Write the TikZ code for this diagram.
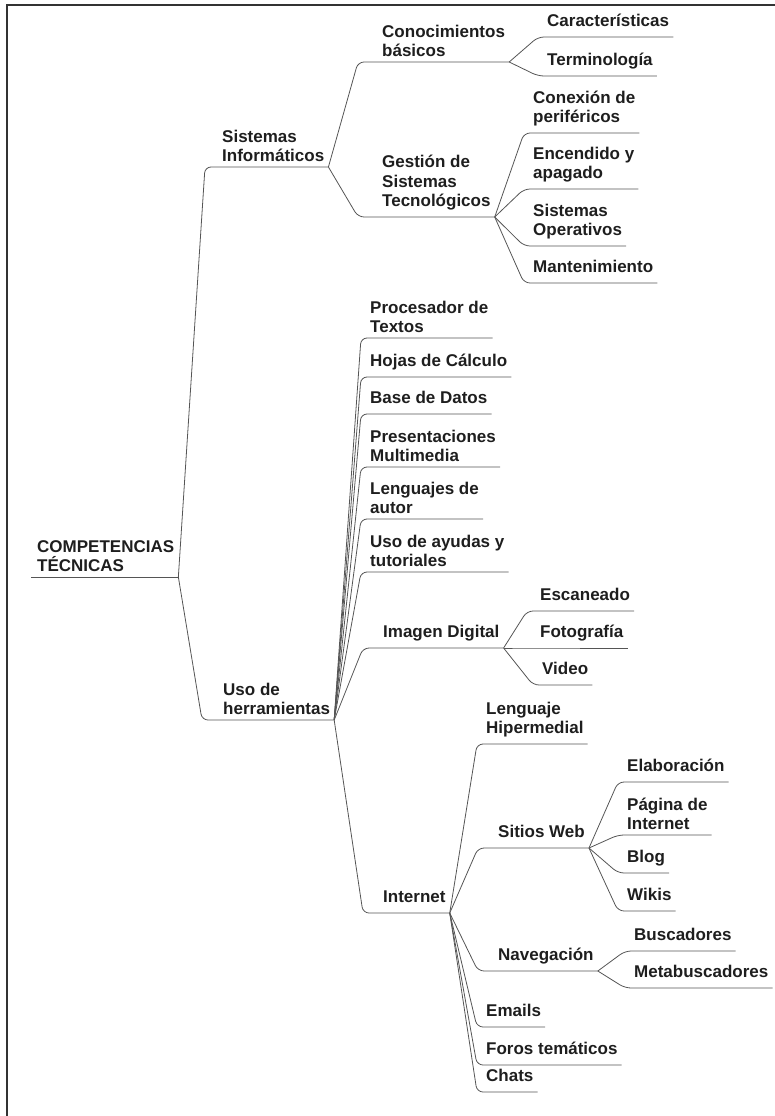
\documentclass[tikz,border=0pt]{standalone}
\usepackage{fontspec}
\setmainfont{Liberation Sans}
\definecolor{ink}{RGB}{30,30,30}
\definecolor{twigcol}{RGB}{85,85,85}

\begin{document}
\begin{tikzpicture}[x=1pt, y=-1pt,
    topic/.style={anchor=south west, align=left, inner xsep=4pt, inner ysep=6pt,
      text depth=4pt, text=ink, font=\fontsize{17}{19.5}\selectfont\bfseries},
    snug/.style={inner ysep=1pt},
    twig/.style={draw=twigcol, line width=0.8pt, rounded corners=6pt,
      to path={-- ([xshift=-#1]\tikztotarget.south west) -- (\tikztotarget.south east)}},
    twig/.default=5pt]

    \useasboundingbox (0,0) rectangle (775,1116);
    \draw[line width=2pt, black!80] (7,1116) -- (7,5) -- (775,5);

    \node [topic,snug] (root) at (33,577) {COMPETENCIAS\\TÉCNICAS};
    \node [topic,snug] (sis) at (218,167) {Sistemas\\Informáticos};
    \node [topic,snug] (uso) at (219,720) {Uso de\\herramientas};

    \node [topic,snug] (con) at (378,62) {Conocimientos\\básicos};
    \node [topic] (ges) at (378,217) {Gestión de\\Sistemas\\Tecnológicos};
    \node [topic] (car) at (543,37) {Características};
    \node [topic] (ter) at (543,76) {Terminología};
    \node [topic] (cnx) at (529,133) {Conexión de\\periféricos};
    \node [topic] (enc) at (529,189) {Encendido y\\apagado};
    \node [topic] (sop) at (529,246) {Sistemas\\Operativos};
    \node [topic] (man) at (529,283) {Mantenimiento};

    \node [topic,snug] (pro) at (366,338) {Procesador de\\Textos};
    \node [topic] (hoj) at (366,377) {Hojas de Cálculo};
    \node [topic] (bas) at (366,414) {Base de Datos};
    \node [topic,snug] (pre) at (366,467) {Presentaciones\\Multimedia};
    \node [topic,snug] (len) at (366,519) {Lenguajes de\\autor};
    \node [topic,snug] (ayu) at (366,572) {Uso de ayudas y\\tutoriales};
    \node [topic] (img) at (379,648) {Imagen Digital};
    \node [topic] (esc) at (536,611) {Escaneado};
    \node [topic] (fot) at (536,648) {Fotografía};
    \node [topic] (vid) at (538,685) {Video};

    \node [topic] (net) at (379,913) {Internet};
    \node [topic] (hip) at (482,744) {Lenguaje\\Hipermedial};
    \node [topic] (web) at (494,848) {Sitios Web};
    \node [topic] (ela) at (623,782) {Elaboración};
    \node [topic,snug] (pag) at (623,835) {Página de\\Internet};
    \node [topic] (blo) at (623,873) {Blog};
    \node [topic] (wik) at (623,911) {Wikis};
    \node [topic] (nav) at (494,971) {Navegación};
    \node [topic] (bus) at (630,951) {Buscadores};
    \node [topic] (met) at (630,988) {Metabuscadores};
    \node [topic] (ema) at (482,1027) {Emails};
    \node [topic] (for) at (482,1065) {Foros temáticos};
    \node [topic] (cha) at (482,1092) {Chats};

    \draw[twigcol, line width=0.8pt] ([xshift=-2pt]root.south west) -- (root.south east);
 \path
      (root.south east) edge[twig=13pt] (sis)
                        edge[twig=17pt] (uso)
      (sis.south east) edge[twig=20pt] (con)
                       edge[twig=20pt] (ges)
      (con.south east) edge[twig] (car)
                       edge[twig] (ter)
      (ges.south east) edge[twig] (cnx)
                       edge[twig] (enc)
                       edge[twig] (sop)
                       edge[twig] (man)
      (uso.south east) edge[twig] (pro)
                       edge[twig] (hoj)
                       edge[twig] (bas)
                       edge[twig] (pre)
                       edge[twig] (len)
                       edge[twig] (ayu)
                       edge[twig=16pt] (img)
                       edge[twig=16pt] (net)
      (img.south east) edge[twig=9pt] (esc)
                       edge[twig=9pt] (fot)
                       edge[twig] (vid)
      (net.south east) edge[twig] (hip)
                       edge[twig=16pt] (web)
                       edge[twig=16pt] (nav)
                       edge[twig] (ema)
                       edge[twig] (for)
                       edge[twig] (cha)
      (web.south east) edge[twig] (ela)
                       edge[twig] (pag)
                       edge[twig] (blo)
                       edge[twig] (wik)
      (nav.south east) edge[twig] (bus)
                       edge[twig] (met);
\end{tikzpicture}
\end{document}
